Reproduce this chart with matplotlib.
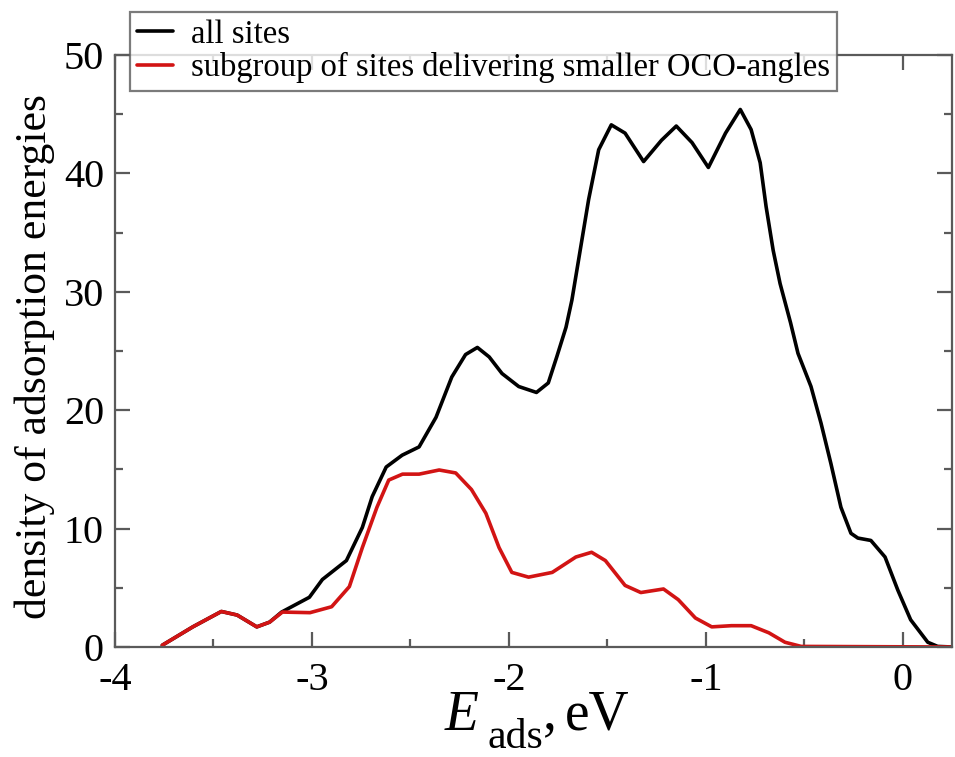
import matplotlib
matplotlib.use("Agg")
import matplotlib.pyplot as plt
from matplotlib.ticker import MultipleLocator

plt.rcParams['font.family'] = ['Liberation Serif', 'DejaVu Serif']
plt.rcParams['axes.unicode_minus'] = False

# ---- data ----
all_x = [-3.76, -3.605, -3.46, -3.38, -3.28, -3.215, -3.154, -3.013, -2.947, -2.825,
         -2.744, -2.694, -2.623, -2.542, -2.456, -2.37, -2.29, -2.22, -2.16, -2.10,
         -2.035, -1.95, -1.86, -1.80, -1.757, -1.71, -1.68, -1.595, -1.544, -1.48,
         -1.41, -1.316, -1.225, -1.15, -1.07, -0.987, -0.90, -0.825, -0.77, -0.724,
         -0.694, -0.658, -0.623, -0.57, -0.532, -0.466, -0.415, -0.365, -0.314, -0.263,
         -0.228, -0.162, -0.09, -0.025, 0.04, 0.127, 0.177, 0.25]
all_y = [0.15, 1.7, 3.0, 2.7, 1.7, 2.1, 2.95, 4.2, 5.7, 7.3,
         10.1, 12.7, 15.2, 16.2, 16.9, 19.4, 22.8, 24.7, 25.3, 24.5,
         23.1, 22.0, 21.5, 22.3, 24.5, 27.0, 29.3, 37.8, 42.0, 44.1,
         43.4, 41.0, 42.8, 44.0, 42.6, 40.5, 43.4, 45.4, 43.7, 40.9,
         37.2, 33.5, 30.7, 27.4, 24.8, 22.0, 18.9, 15.5, 11.8, 9.6,
         9.2, 9.0, 7.6, 4.8, 2.3, 0.4, 0.05, 0.0]

sub_x = [-3.76, -3.605, -3.46, -3.38, -3.28, -3.215, -3.15, -3.01, -2.90, -2.81,
         -2.744, -2.67, -2.61, -2.54, -2.456, -2.354, -2.27, -2.19, -2.117, -2.05,
         -1.985, -1.90, -1.78, -1.66, -1.58, -1.51, -1.41, -1.33, -1.215, -1.14,
         -1.053, -0.97, -0.87, -0.77, -0.68, -0.598, -0.516, 0.25]
sub_y = [0.15, 1.7, 3.0, 2.7, 1.7, 2.1, 2.95, 2.9, 3.4, 5.1,
         8.4, 11.8, 14.1, 14.6, 14.6, 14.95, 14.7, 13.3, 11.3, 8.4,
         6.3, 5.9, 6.3, 7.6, 8.0, 7.3, 5.2, 4.6, 4.9, 4.0,
         2.45, 1.7, 1.8, 1.8, 1.2, 0.4, 0.05, 0.0]

labels = ["all sites", "subgroup of sites delivering smaller OCO-angles"]
colors = ["black", "#d21414"]
ylabel = "density of adsorption energies"
xlabel_main, xlabel_sub, xlabel_unit = "E", "ads", "eV"

W, H = 955, 757
fig = plt.figure(figsize=(W / 100, H / 100), dpi=100)
ax = fig.add_axes([115 / W, 110 / H, 837 / W, 592 / H])

l1, = ax.plot(all_x, all_y, color=colors[0], lw=2.6, label=labels[0],
              solid_joinstyle='round', solid_capstyle='round')
l2, = ax.plot(sub_x, sub_y, color=colors[1], lw=2.6, label=labels[1],
              solid_joinstyle='round', solid_capstyle='round')

ax.set_xlim(-4, 0.25)
ax.set_ylim(0, 50)
ax.xaxis.set_major_locator(MultipleLocator(1))
ax.xaxis.set_minor_locator(MultipleLocator(0.5))
ax.yaxis.set_major_locator(MultipleLocator(10))
ax.yaxis.set_minor_locator(MultipleLocator(5))

spine_c = '#5a5a5a'
for s in ax.spines.values():
    s.set_color(spine_c)
    s.set_linewidth(1.6)
ax.tick_params(which='both', direction='in', top=True, right=True, color=spine_c, width=1.6)
ax.tick_params(which='major', length=11, labelsize=29)
ax.tick_params(axis='x', which='major', pad=11)
ax.tick_params(axis='y', which='major', pad=8)
ax.tick_params(which='minor', length=6)

ax.set_ylabel(ylabel, fontsize=31.5)
ax.yaxis.set_label_coords(-0.072, 0.49)

# x label: italic E, lowered subscript "ads", then ", eV"
fig.text(445 / W, 1 - 730 / H, xlabel_main, fontsize=40, style='italic',
         ha='left', va='baseline')
fig.text(487 / W, 1 - 748 / H, xlabel_sub, fontsize=30, ha='left', va='baseline')
fig.text(543 / W, 1 - 728 / H, ",", fontsize=40, ha='left', va='baseline')
fig.text(565 / W, 1 - 730 / H, xlabel_unit, fontsize=40, ha='left', va='baseline')

leg = fig.legend(handles=[l1, l2], labels=labels, loc='upper left',
                 bbox_to_anchor=(130 / W, 1 - 12 / H), fontsize=23.5,
                 frameon=True, fancybox=False, shadow=False, borderpad=0.22,
                 handlelength=1.1, handletextpad=0.55, labelspacing=0.08,
                 borderaxespad=0)
leg.get_frame().set_edgecolor(spine_c)
leg.get_frame().set_linewidth(1.6)
for line in leg.get_lines():
    line.set_linewidth(2.6)

fig.savefig("out.png", dpi=100)
